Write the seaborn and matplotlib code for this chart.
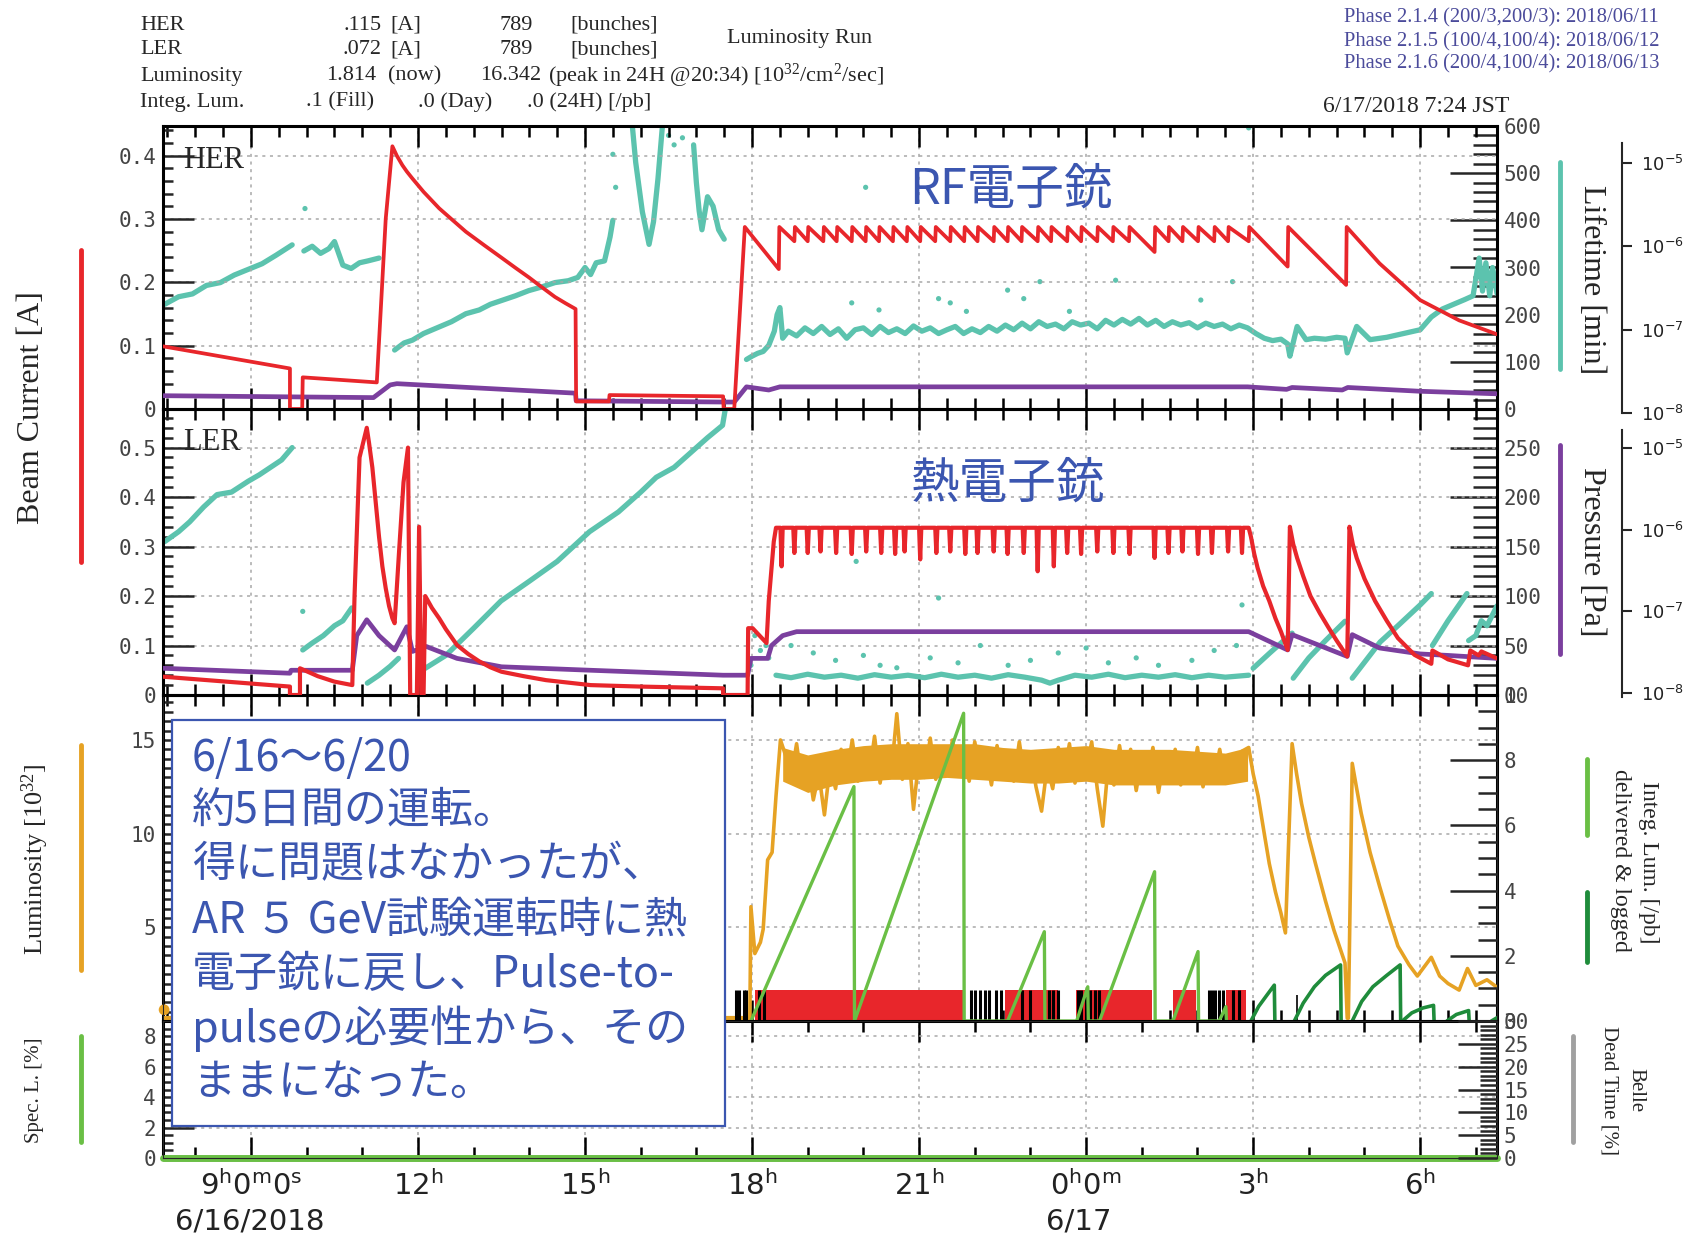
import numpy as np
import pandas as pd
import matplotlib
matplotlib.use('Agg')
import matplotlib.pyplot as plt
import seaborn as sns
from matplotlib.ticker import FixedLocator, MultipleLocator, NullLocator
from matplotlib.patches import Rectangle
from matplotlib.lines import Line2D

sns.set_style('white')
plt.rcParams['font.family'] = ['DejaVu Sans']
plt.rcParams['mathtext.default'] = 'regular'

# ------------------------------------------------------------------ data
T0, T1 = 7.42, 31.38                      # 6/16 7:25 .. 6/17 7:23 (hours)
xt_major = [9, 12, 15, 18, 21, 24, 27, 30]
xt_labels = [r'$\mathregular{9^h0^m0^s}$', r'$\mathregular{12^h}$', r'$\mathregular{15^h}$',
             r'$\mathregular{18^h}$', r'$\mathregular{21^h}$', r'$\mathregular{0^h0^m}$',
             r'$\mathregular{3^h}$', r'$\mathregular{6^h}$']

# HER beam current [A]
her_cur_t = [7.42, 9.70, 9.70, 9.92, 9.93, 10.60, 11.26, 11.42, 11.54, 11.62, 11.72, 11.80,
             11.90, 12.10, 12.38, 12.60, 12.86, 13.20, 13.50, 13.75, 13.99, 14.20, 14.46, 14.65,
             14.83, 14.84, 15.43, 15.44, 17.48, 17.49, 17.68, 17.87]
her_cur_v = [0.099, 0.064, 0.0, 0.0, 0.050, 0.046, 0.042, 0.30, 0.415, 0.400, 0.385, 0.375,
             0.364, 0.343, 0.317, 0.300, 0.280, 0.258, 0.239, 0.223, 0.208, 0.194, 0.177, 0.167,
             0.158, 0.012, 0.012, 0.022, 0.020, 0.0, 0.0, 0.2875]
her_inj_t = [18.48, 18.76, 19.00, 19.28, 19.52, 19.79, 20.04, 20.28, 20.53, 20.78, 21.02, 21.29,
             21.56, 21.81, 22.05, 22.34, 22.59, 22.84, 23.13, 23.37, 23.66, 23.91, 24.20, 24.48,
             24.77, 25.23, 25.48, 25.73, 26.01, 26.30, 26.55, 26.92, 27.62, 28.67]
her_inj_before = [0.221, 0.265, 0.265, 0.265, 0.265, 0.265, 0.265, 0.265, 0.265, 0.265, 0.265, 0.265,
                  0.265, 0.265, 0.265, 0.265, 0.265, 0.265, 0.265, 0.265, 0.265, 0.265, 0.265, 0.265,
                  0.265, 0.248, 0.265, 0.265, 0.265, 0.265, 0.265, 0.265, 0.225, 0.196]
her_inj_after = [0.2875] * 34
her_tail_t = [29.27, 30.00, 30.70, 31.38]
her_tail_v = [0.230, 0.172, 0.140, 0.118]

# HER pressure trace (plotted on current scale)
her_p_t = [7.42, 11.20, 11.50, 11.62, 14.83, 14.84, 17.48, 17.68, 17.90, 18.30, 18.50, 26.90,
           27.60, 27.70, 28.60, 28.70, 30.00, 31.38]
her_p_v = [0.021, 0.018, 0.038, 0.040, 0.025, 0.013, 0.011, 0.011, 0.035, 0.030, 0.035, 0.035,
           0.031, 0.034, 0.030, 0.034, 0.028, 0.024]

# HER lifetime [min]
her_life_t = [
    [7.45, 7.70, 7.95, 8.20, 8.45, 8.70, 8.95, 9.20, 9.45, 9.74],
    [9.95, 10.10, 10.25, 10.40, 10.50, 10.65, 10.80, 10.95, 11.10, 11.30],
    [11.58, 11.75, 11.90, 12.10, 12.38, 12.60, 12.86, 13.10, 13.30, 13.50, 13.75, 13.99, 14.20,
     14.46, 14.70, 14.87, 15.00, 15.10, 15.20, 15.35, 15.45, 15.50],
    [15.85, 15.91, 16.03, 16.15, 16.23, 16.31, 16.39],
    [16.95, 17.00, 17.05, 17.10, 17.20, 17.30, 17.40, 17.50],
    [17.9, 18.0, 18.1, 18.2, 18.3, 18.4, 18.45, 18.5, 18.55, 18.65,
     18.8, 18.95, 19.1, 19.25, 19.4, 19.55, 19.7, 19.85, 20.0, 20.15,
     20.3, 20.45, 20.6, 20.75, 20.9, 21.05, 21.2, 21.35, 21.5, 21.65,
     21.8, 21.95, 22.1, 22.25, 22.4, 22.55, 22.7, 22.85, 23.0, 23.15,
     23.3, 23.45, 23.6, 23.75, 23.9, 24.05, 24.2, 24.35, 24.5, 24.65,
     24.8, 24.95, 25.1, 25.25, 25.4, 25.55, 25.7, 25.85, 26.0, 26.15,
     26.3, 26.45, 26.6, 26.75, 26.9, 27.05, 27.2, 27.35, 27.5, 27.62,
     27.66, 27.79, 27.95, 28.1, 28.3, 28.5, 28.65, 28.69, 28.86, 29.1,
     29.4, 29.7, 30.0, 30.2, 30.4, 30.6, 30.8, 30.95, 31.06, 31.12,
     31.18, 31.25, 31.3, 31.38]]
her_life_v = [
    [222, 238, 244, 262, 268, 284, 296, 308, 326, 348],
    [335, 345, 330, 340, 355, 305, 298, 310, 314, 320],
    [125, 140, 146, 160, 174, 185, 202, 210, 222, 230, 240, 251, 258, 268, 272, 279, 300, 285,
     310, 314, 365, 400],
    [600, 523, 418, 349, 397, 488, 600],
    [560, 480, 420, 380, 450, 430, 380, 360],
    [105, 112, 118, 122, 135, 165, 200, 215, 150, 165,
     155, 172, 160, 175, 158, 170, 150, 168, 172, 158,
     175, 162, 170, 160, 176, 165, 172, 160, 168, 175,
     160, 170, 162, 175, 165, 178, 168, 182, 170, 185,
     175, 180, 170, 185, 178, 182, 170, 188, 178, 190,
     180, 192, 178, 188, 175, 185, 178, 183, 172, 182,
     175, 180, 170, 178, 172, 160, 150, 145, 148, 138,
     112, 175, 147, 150, 148, 152, 150, 119, 175, 147,
     152, 160, 168, 195, 212, 222, 232, 240, 320, 250,
     310, 240, 300, 245]]
her_dot_t = [9.97, 15.50, 15.55, 16.50, 16.60, 16.75, 19.79, 20.04, 20.28, 21.35, 21.56, 21.85,
             22.59, 22.88, 23.17, 23.70, 24.53, 26.06, 26.63, 26.92]
her_dot_v = [425, 540, 470, 580, 560, 575, 225, 470, 210, 234, 225, 207,
             252, 234, 270, 207, 273, 231, 270, 596]

# LER beam current [A]
ler_cur_t = [7.42, 9.70, 9.70, 9.88, 9.88, 10.20, 10.50, 10.82, 10.86, 10.95, 11.08, 11.12,
             11.18, 11.24, 11.30, 11.36, 11.42, 11.48, 11.54, 11.58, 11.66, 11.74, 11.82, 11.86,
             11.98, 12.02, 12.06, 12.10, 12.13, 12.18, 12.25, 12.38, 12.50, 12.70, 12.90, 13.10,
             13.30, 13.50, 13.90, 14.30, 14.70, 15.10, 16.00, 17.48, 17.48, 17.92, 17.93, 18.01,
             18.26, 18.30, 18.39, 18.43]
ler_cur_v = [0.037, 0.017, 0.0, 0.0, 0.054, 0.038, 0.027, 0.020, 0.20, 0.48, 0.54, 0.51,
             0.46, 0.39, 0.32, 0.26, 0.216, 0.18, 0.155, 0.145, 0.29, 0.43, 0.50, 0.0,
             0.0, 0.34, 0.0, 0.0, 0.20, 0.19, 0.176, 0.155, 0.133, 0.101, 0.083, 0.068,
             0.056, 0.047, 0.038, 0.030, 0.025, 0.020, 0.017, 0.0135, 0.0, 0.0, 0.135, 0.135,
             0.105, 0.19, 0.31, 0.338]
ler_plateau = 0.338
ler_dip_t = [18.53, 18.76, 19.00, 19.23, 19.51, 19.79, 20.05, 20.32, 20.57, 20.74, 21.02, 21.31,
             21.56, 21.83, 22.05, 22.34, 22.59, 22.88, 23.13, 23.42, 23.66, 23.91, 24.20, 24.49,
             24.78, 25.23, 25.48, 25.73, 26.01, 26.26, 26.55, 26.80]
ler_dip_v = [0.26, 0.287, 0.287, 0.29, 0.287, 0.285, 0.29, 0.287, 0.285, 0.29, 0.274, 0.287,
             0.29, 0.285, 0.287, 0.29, 0.285, 0.287, 0.25, 0.26, 0.287, 0.285, 0.29, 0.287,
             0.285, 0.277, 0.287, 0.29, 0.285, 0.287, 0.29, 0.287]
ler_tail_t = [26.92, 26.96, 27.02, 27.08, 27.18, 27.29, 27.40, 27.50, 27.62, 27.66, 27.72, 27.79,
              27.90, 28.03, 28.20, 28.36, 28.50, 28.69, 28.73, 28.79, 28.86, 29.00, 29.19, 29.40,
              29.60, 29.90, 30.20, 30.22, 30.50, 30.86, 30.90, 31.05, 31.10, 31.38]
ler_tail_v = [0.338, 0.32, 0.285, 0.257, 0.22, 0.19, 0.155, 0.128, 0.091, 0.34, 0.305, 0.277,
              0.24, 0.20, 0.165, 0.135, 0.11, 0.078, 0.34, 0.305, 0.277, 0.235, 0.19, 0.15,
              0.115, 0.081, 0.063, 0.09, 0.072, 0.06, 0.09, 0.08, 0.088, 0.074]

ler_p_t = [7.42, 9.70, 9.72, 10.82, 10.90, 11.08, 11.30, 11.58, 11.80, 11.90, 12.15, 12.70,
           13.50, 15.10, 17.48, 17.92, 17.98, 18.28, 18.35, 18.55, 18.80, 26.92, 27.62, 27.70,
           28.69, 28.78, 29.27, 30.00, 30.50, 31.38]
ler_p_v = [0.054, 0.044, 0.050, 0.050, 0.12, 0.152, 0.12, 0.091, 0.138, 0.088, 0.098, 0.074,
           0.057, 0.050, 0.040, 0.040, 0.074, 0.074, 0.10, 0.12, 0.128, 0.128, 0.091, 0.122,
           0.078, 0.122, 0.095, 0.083, 0.080, 0.074]

ler_life_t = [
    [7.45, 7.70, 7.90, 8.15, 8.39, 8.65, 8.95, 9.15, 9.35, 9.55, 9.74],
    [9.93, 10.10, 10.30, 10.50, 10.65, 10.81],
    [11.09, 11.30, 11.50, 11.65],
    [12.13, 12.50, 13.00, 13.49, 14.00, 14.50, 15.08, 15.60, 16.00, 16.28, 16.60, 16.90, 17.20,
     17.47, 17.52],
    [18.43, 18.70, 19.00, 19.30, 19.60, 19.90, 20.20, 20.50, 20.80, 21.10,
     21.40, 21.70, 22.00, 22.30, 22.60, 22.90, 23.20, 23.35, 23.50, 23.80,
     24.10, 24.40, 24.70, 25.00, 25.30, 25.60, 25.90, 26.20, 26.50, 26.92],
    [27.00, 27.30, 27.70],
    [27.72, 28.00, 28.30, 28.65],
    [28.78, 29.28, 29.60, 30.00, 30.20],
    [30.22, 30.50, 30.84],
    [30.87, 31.00, 31.10, 31.20, 31.38]]
ler_life_v = [
    [0.31, 0.33, 0.35, 0.38, 0.405, 0.41, 0.432, 0.445, 0.46, 0.475, 0.50],
    [0.091, 0.105, 0.12, 0.14, 0.15, 0.176],
    [0.024, 0.04, 0.058, 0.074],
    [0.054, 0.08, 0.135, 0.19, 0.23, 0.27, 0.33, 0.37, 0.41, 0.44, 0.46, 0.49, 0.52, 0.545, 0.578],
    [0.04, 0.035, 0.042, 0.036, 0.04, 0.034, 0.041, 0.036, 0.04, 0.035,
     0.042, 0.036, 0.04, 0.034, 0.041, 0.036, 0.03, 0.024, 0.03, 0.04,
     0.036, 0.042, 0.035, 0.04, 0.036, 0.041, 0.035, 0.04, 0.036, 0.04],
    [0.054, 0.085, 0.125],
    [0.034, 0.075, 0.11, 0.149],
    [0.034, 0.107, 0.14, 0.182, 0.205],
    [0.10, 0.15, 0.205],
    [0.11, 0.12, 0.15, 0.14, 0.18]]
ler_dot_t = [9.93, 17.98, 18.05, 18.15, 18.25, 18.30, 18.7, 19.1, 19.5, 19.87, 20.0, 20.3, 20.6,
             21.2, 21.35, 21.7, 22.1, 22.6, 23.0, 23.5, 24.0, 24.4, 24.9, 25.3, 25.9, 26.3, 26.7,
             26.8]
ler_dot_v = [0.169, 0.06, 0.12, 0.09, 0.10, 0.075, 0.10, 0.085, 0.07, 0.27, 0.08, 0.06, 0.055,
             0.075, 0.196, 0.065, 0.10, 0.06, 0.07, 0.085, 0.095, 0.065, 0.075, 0.06, 0.07, 0.09,
             0.10, 0.182]

# Luminosity [1e32]
lum_pre_t = [7.42, 17.96]
lum_pre_v = [0.15, 0.15]
lum_t = [17.96, 17.98, 18.05, 18.15, 18.20, 18.28, 18.36, 18.43, 18.51,
         18.6, 18.7, 18.8, 18.9, 19.0, 19.1, 19.2, 19.3, 19.4, 19.5,
         19.6, 19.7, 19.8, 19.9, 20.0, 20.1, 20.2, 20.3, 20.4, 20.5,
         20.6, 20.7, 20.8, 20.9, 21.0, 21.1, 21.2, 21.3, 21.4, 21.5,
         21.6, 21.7, 21.8, 21.9, 22.0, 22.1, 22.2, 22.3, 22.4, 22.5,
         22.6, 22.7, 22.8, 22.9, 23.0, 23.1, 23.2, 23.3, 23.4, 23.5,
         23.6, 23.7, 23.8, 23.9, 24.0, 24.1, 24.2, 24.3, 24.4, 24.5,
         24.6, 24.7, 24.8, 24.9, 25.0, 25.1, 25.2, 25.3, 25.4, 25.5,
         25.6, 25.7, 25.8, 25.9, 26.0, 26.1, 26.2, 26.3, 26.4, 26.5,
         26.6, 26.7, 26.8, 26.92,
         27.00, 27.09, 27.20, 27.29, 27.40, 27.50, 27.58, 27.70, 27.78, 27.87, 28.00, 28.12,
         28.30, 28.45, 28.65, 28.69, 28.71, 28.78, 28.86, 28.94, 29.10, 29.27, 29.45, 29.60,
         29.80, 29.95, 30.20, 30.35, 30.50, 30.70, 30.85, 31.00, 31.20, 31.38]
lum_v = [0.15, 6.1, 3.6, 4.2, 4.9, 8.6, 9.0, 12.0, 15.0,
         14.2, 13.0, 14.8, 12.6, 13.9, 11.8, 13.2, 11.0, 13.6, 12.4,
         14.5, 13.1, 15.0, 12.8, 14.3, 13.0, 15.2, 12.7, 14.6, 13.2,
         16.4, 12.9, 14.8, 11.3, 14.1, 13.0, 15.1, 12.9, 14.4, 13.3,
         15.0, 13.1, 14.6, 12.8, 14.9, 13.2, 14.2, 12.6, 14.7, 13.0,
         14.4, 12.8, 14.9, 12.9, 14.3, 12.5, 11.2, 13.6, 12.4, 14.6,
         13.0, 14.8, 12.7, 14.2, 13.3, 14.9, 12.4, 10.4, 13.8, 12.6,
         14.7, 12.9, 14.5, 12.3, 14.1, 13.0, 14.6, 12.2, 14.0, 13.1,
         14.5, 12.6, 14.3, 12.9, 14.6, 12.5, 14.2, 13.0, 14.5, 12.7,
         14.0, 12.9, 14.4, 14.6,
         13.2, 12.0, 10.0, 8.4, 6.9, 5.75, 4.7, 14.8, 13.2, 11.6, 9.8, 8.4,
         6.4, 4.86, 3.1, 0.15, 0.15, 13.75, 12.4, 11.1, 9.0, 7.2, 5.4, 4.0,
         3.0, 2.4, 3.4, 2.4, 2.0, 1.65, 2.8, 1.9, 2.2, 1.8]
lum_env_t = [18.55, 19.0, 19.5, 20.0, 20.5, 21.0, 21.5, 22.0, 22.5, 23.0, 23.5, 24.0, 24.5,
             25.0, 25.5, 26.0, 26.5, 26.9]
lum_env_lo = [12.8, 12.2, 12.6, 12.8, 12.9, 12.9, 13.0, 12.9, 12.8, 12.7, 12.7, 12.8, 12.6,
              12.6, 12.6, 12.6, 12.6, 12.8]
lum_env_hi = [14.6, 14.2, 14.5, 14.7, 14.8, 14.8, 14.8, 14.8, 14.6, 14.5, 14.6, 14.7, 14.5,
              14.5, 14.5, 14.4, 14.3, 14.6]

# Integrated luminosity [/pb]
ilum_t = [17.98, 19.83, 19.84, 21.80, 21.81, 22.59, 23.25, 23.26, 23.83, 24.03, 24.04, 24.24,
          25.23, 25.24, 25.56, 26.01, 26.02, 26.39, 26.51, 26.52]
ilum_v = [0, 7.19, 0, 9.44, 0, 0, 2.74, 0, 0, 1.05, 0, 0, 4.58, 0, 0, 2.13, 0, 0, 0.44, 0]
logged_t = [[26.96, 27.10, 27.25, 27.38, 27.39], [27.74, 27.90, 28.10, 28.30, 28.57, 28.58],
            [28.78, 28.95, 29.15, 29.40, 29.64, 29.65], [29.68, 29.85, 30.05, 30.24, 30.25],
            [30.48, 30.65, 30.87, 30.88], [31.28, 31.38]]
logged_v = [[0, 0.45, 0.8, 1.1, 0], [0, 0.55, 1.05, 1.4, 1.72, 0],
            [0, 0.6, 1.05, 1.4, 1.72, 0], [0, 0.25, 0.4, 0.48, 0],
            [0, 0.2, 0.32, 0], [0, 0.1]]
red_start = [18.06, 22.55, 23.81, 25.56, 26.51]
red_end = [21.81, 23.50, 25.19, 25.97, 26.88]
black_t = [17.71, 17.77, 17.85, 17.89, 18.12, 18.22, 21.93, 22.01, 22.10, 22.18, 22.26, 22.38,
           22.47, 22.84, 23.00, 23.33, 23.41, 23.50, 23.86, 23.91, 23.99, 24.07, 24.16, 24.24,
           26.20, 26.26, 26.32, 26.38, 26.45, 26.63, 26.75]
status_h = 0.95

spec_t = [T0, T1]
spec_v = [0.0, 0.0]

header_rows = [
    ['HER', '.115', '[A]', '789', '[bunches]'],
    ['LER', '.072', '[A]', '789', '[bunches]'],
]
phase_lines = ['Phase 2.1.4 (200/3,200/3): 2018/06/11',
               'Phase 2.1.5 (100/4,100/4): 2018/06/12',
               'Phase 2.1.6 (200/4,100/4): 2018/06/13']
box_lines = ['6/16〜6/20', '約5日間の運転。', '得に問題はなかったが、', 'AR ５ GeV試験運転時に熱',
             '電子銃に戻し、Pulse-to-', 'pulseの必要性から、その', 'ままになった。']

# ------------------------------------------------------------------ style
RED = '#e8262b'
TEAL = '#5cc3ae'
PURPLE = '#7b3f9e'
ORANGE = '#e6a224'
LGREEN = '#6abf45'
DGREEN = '#1f8c3b'
BLUE = '#3b56b0'
GRAY = '#a0a0a0'
SERIF = 'Liberation Serif'
MONO = 'DejaVu Sans Mono'
CJK = ['Noto Sans CJK JP', 'DejaVu Sans']

W, H = 1689, 1236
fig = plt.figure(figsize=(W / 100, H / 100), dpi=100)
fig.patch.set_facecolor('white')
L, R = 163, 1497


def add_ax(top, bot):
    return fig.add_axes([L / W, 1 - bot / H, (R - L) / W, (bot - top) / H])


def T(x, y, s, **kw):
    return fig.text(x / W, 1 - y / H, s, **kw)


def vline_fig(x, y0, y1, color, lw=3.5):
    fig.add_artist(Line2D([x / W, x / W], [1 - y0 / H, 1 - y1 / H], color=color, lw=lw,
                          transform=fig.transFigure))


def draw(ax, t, v, color, lw, z=3):
    df = pd.DataFrame({'t': t, 'v': v})
    sns.lineplot(data=df, x='t', y='v', ax=ax, color=color, lw=lw, sort=False,
                 estimator=None, zorder=z, legend=False)


def draw_segments(ax, ts, vs, color, lw, z=3):
    rows = []
    for k, (tt, vv) in enumerate(zip(ts, vs)):
        for a, b in zip(tt, vv):
            rows.append((k, a, b))
    df = pd.DataFrame(rows, columns=['seg', 't', 'v'])
    sns.lineplot(data=df, x='t', y='v', units='seg', ax=ax, color=color, lw=lw, sort=False,
                 estimator=None, zorder=z, legend=False)


def style_main(ax, ylim, ticks, labels, yminor, xminor=0.5):
    ax.set_xlim(T0, T1)
    ax.set_ylim(*ylim)
    ax.xaxis.set_major_locator(FixedLocator(xt_major))
    ax.xaxis.set_minor_locator(MultipleLocator(xminor))
    ax.set_yticks(ticks, labels=labels, fontfamily=MONO, fontsize=15, color='#444444')
    ax.yaxis.set_minor_locator(MultipleLocator(yminor))
    ax.tick_params(axis='x', which='both', direction='in', top=True, bottom=True,
                   labelbottom=False, width=1.8, color='black')
    ax.tick_params(axis='x', which='major', length=15)
    ax.tick_params(axis='x', which='minor', length=8)
    ax.tick_params(axis='y', which='both', direction='in', left=True, right=False, width=1.8)
    ax.tick_params(axis='y', which='major', length=22, pad=5)
    ax.tick_params(axis='y', which='minor', length=7)
    for s in ax.spines.values():
        s.set_linewidth(2.2)
        s.set_color('black')
    ax.grid(True, which='major', color='#a8a8a8', ls=(0, (2, 3)), lw=1.1)
    ax.set_xlabel('')
    ax.set_ylabel('')


def style_twin(tw, ylim, ticks, labels, yminor, majlen=24, minlen=12):
    tw.set_ylim(*ylim)
    tw.set_yticks(ticks, labels=labels, fontfamily=MONO, fontsize=15, color='#444444')
    tw.yaxis.set_minor_locator(MultipleLocator(yminor))
    tw.tick_params(axis='y', which='both', direction='in', right=True, left=False, width=1.8)
    tw.tick_params(axis='y', which='major', length=majlen, pad=5)
    tw.tick_params(axis='y', which='minor', length=minlen)
    tw.set_xlabel('')
    tw.set_ylabel('')


# ------------------------------------------------------------------ HER panel
ax_her = add_ax(126, 409)
tw_her = ax_her.twinx()
ax_her.set_zorder(tw_her.get_zorder() + 1)
ax_her.patch.set_visible(False)

draw_segments(tw_her, her_life_t, her_life_v, TEAL, 3.8, z=2)
sns.scatterplot(x=her_dot_t, y=her_dot_v, ax=tw_her, color=TEAL, s=14, edgecolor='none', zorder=2)

her_t_all = list(her_cur_t)
her_v_all = list(her_cur_v)
for t_i, b_i, a_i in zip(her_inj_t, her_inj_before, her_inj_after):
    her_t_all += [t_i, t_i + 0.01]
    her_v_all += [b_i, a_i]
her_t_all += her_tail_t
her_v_all += her_tail_v
draw(ax_her, her_p_t, her_p_v, PURPLE, 3.4, z=3)
draw(ax_her, her_t_all, her_v_all, RED, 2.7, z=4)

style_main(ax_her, (0, 0.447), [0, 0.1, 0.2, 0.3, 0.4], ['0', '0.1', '0.2', '0.3', '0.4'], 0.02)
style_twin(tw_her, (0, 600), [0, 100, 200, 300, 400, 500, 600],
           ['0', '100', '200', '300', '400', '500', '600'], 20, majlen=34, minlen=17)

# ------------------------------------------------------------------ LER panel
ax_ler = add_ax(409, 695)
tw_ler = ax_ler.twinx()
ax_ler.set_zorder(tw_ler.get_zorder() + 1)
ax_ler.patch.set_visible(False)

draw_segments(ax_ler, ler_life_t, ler_life_v, TEAL, 3.8, z=2)
sns.scatterplot(x=ler_dot_t, y=ler_dot_v, ax=ax_ler, color=TEAL, s=14, edgecolor='none', zorder=2)

ler_t_all = list(ler_cur_t)
ler_v_all = list(ler_cur_v)
for t_i, d_i in zip(ler_dip_t, ler_dip_v):
    ler_t_all += [t_i - 0.02, t_i, t_i + 0.02]
    ler_v_all += [ler_plateau, d_i, ler_plateau]
ler_t_all += ler_tail_t
ler_v_all += ler_tail_v
draw(ax_ler, ler_p_t, ler_p_v, PURPLE, 3.4, z=3)
draw(ax_ler, ler_t_all, ler_v_all, RED, 3.0, z=4)

style_main(ax_ler, (0, 0.578), [0, 0.1, 0.2, 0.3, 0.4, 0.5],
           ['0', '0.1', '0.2', '0.3', '0.4', '0.5'], 0.02)
style_twin(tw_ler, (0, 289), [0, 50, 100, 150, 200, 250],
           ['0', '50', '100', '150', '200', '250'], 10, majlen=34, minlen=17)

# ------------------------------------------------------------------ Luminosity panel
ax_lum = add_ax(695, 1021)
tw_lum = ax_lum.twinx()

ax_lum.fill_between(lum_env_t, lum_env_lo, lum_env_hi, color=ORANGE, lw=0, zorder=2)
draw(ax_lum, lum_pre_t, lum_pre_v, ORANGE, 3.0, z=3)
draw(ax_lum, lum_t, lum_v, ORANGE, 2.6, z=3)
sns.scatterplot(x=[T0 + 0.02], y=[0.6], ax=ax_lum, color=ORANGE, s=60, edgecolor='none',
                zorder=3, clip_on=False)

for s0, s1 in zip(red_start, red_end):
    tw_lum.fill_between([s0, s1], [0, 0], [status_h, status_h], color=RED, lw=0, zorder=1)
tw_lum.vlines(black_t, 0, status_h, color='black', lw=2.2, zorder=2)
tw_lum.vlines([27.79], 0, 0.8, color='black', lw=1.2, zorder=2)
draw(tw_lum, ilum_t, ilum_v, LGREEN, 2.4, z=3)
draw_segments(tw_lum, logged_t, logged_v, DGREEN, 2.6, z=3)

style_main(ax_lum, (0, 17.4), [5, 10, 15], ['5', '10', '15'], 0.5)
style_twin(tw_lum, (0, 10), [0, 2, 4, 6, 8, 10], ['0', '2', '4', '6', '8', '10'], 0.5,
           majlen=34, minlen=14)

# ------------------------------------------------------------------ Spec panel
ax_sp = add_ax(1021, 1158)
tw_sp = ax_sp.twinx()
draw(ax_sp, spec_t, spec_v, LGREEN, 5, z=3)
for ln in ax_sp.get_lines():
    ln.set_clip_on(False)
style_main(ax_sp, (0, 9), [0, 2, 4, 6, 8], ['0', '2', '4', '6', '8'], 0.5, xminor=1.0)
ax_sp.set_xticks(xt_major, labels=xt_labels, fontsize=21, color='#222222')
ax_sp.tick_params(axis='x', which='major', labelbottom=True, pad=9)
style_twin(tw_sp, (0, 30), [0, 5, 10, 15, 20, 25, 30], ['0', '5', '10', '15', '20', '25', '30'],
           1, majlen=28, minlen=12)

T(250, 1222, '6/16/2018', ha='center', va='center', fontsize=21, color='#222222')
T(1079, 1222, '6/17', ha='center', va='center', fontsize=21, color='#222222')


# ------------------------------------------------------------------ log pressure axes
def log_axis(top_px, bot_px, y5_px, y8_px):
    per_dec = (y8_px - y5_px) / 3.0
    lo = -8 - (bot_px - y8_px) / per_dec
    hi = -5 + (y5_px - top_px) / per_dec
    axl = fig.add_axes([1620 / W, 1 - bot_px / H, 2 / W, (bot_px - top_px) / H])
    axl.set_yscale('log')
    axl.set_ylim(10 ** lo, 10 ** hi)
    for k in ['left', 'top', 'bottom']:
        axl.spines[k].set_visible(False)
    axl.spines['right'].set_linewidth(1.5)
    axl.set_xticks([])
    axl.yaxis.tick_right()
    axl.set_yticks([1e-8, 1e-7, 1e-6, 1e-5],
                   labels=[r'$\mathregular{10^{-8}}$', r'$\mathregular{10^{-7}}$',
                           r'$\mathregular{10^{-6}}$', r'$\mathregular{10^{-5}}$'],
                   fontsize=13, color='#222222')
    axl.yaxis.set_minor_locator(NullLocator())
    axl.tick_params(axis='y', direction='out', length=7, width=1.5, pad=7)
    axl.patch.set_visible(False)


log_axis(143, 413, 163, 413)
log_axis(430, 697, 448, 693)

# ------------------------------------------------------------------ side labels
vline_fig(81, 250, 562, RED)
vline_fig(81, 745, 970, ORANGE)
vline_fig(81, 1036, 1142, LGREEN)
vline_fig(1560, 162, 369, TEAL)
vline_fig(1560, 445, 654, PURPLE)
vline_fig(1587, 759, 835, LGREEN)
vline_fig(1587, 892, 962, DGREEN)
vline_fig(1573, 1036, 1142, GRAY)

T(32, 408, 'Beam Current [A]', rotation=90, ha='center', va='center', fontsize=23, family=SERIF)
T(35, 859, r'Luminosity [10$^{32}$]', rotation=90, ha='center', va='center', fontsize=19,
  family=SERIF)
T(35, 1090, 'Spec. L. [%]', rotation=90, ha='center', va='center', fontsize=15, family=SERIF)
T(1592, 280, 'Lifetime [min]', rotation=-90, ha='center', va='center', fontsize=23, family=SERIF)
T(1592, 552, 'Pressure [Pa]', rotation=-90, ha='center', va='center', fontsize=23, family=SERIF)
T(1648, 862, 'Integ. Lum. [/pb]', rotation=-90, ha='center', va='center', fontsize=17,
  family=SERIF)
T(1620, 860, 'delivered & logged', rotation=-90, ha='center', va='center', fontsize=17,
  family=SERIF)
T(1636, 1090, 'Belle', rotation=-90, ha='center', va='center', fontsize=15, family=SERIF)
T(1609, 1090, 'Dead Time [%]', rotation=-90, ha='center', va='center', fontsize=15, family=SERIF)

# ------------------------------------------------------------------ header
hs = 16
row_y = [25, 50, 76, 102]
for y, row in zip(row_y[:2], header_rows):
    T(140, y, row[0], ha='left', va='center', fontsize=hs, family=SERIF)
    T(382, y, row[1], ha='right', va='center', fontsize=hs, family=SERIF)
    T(390, y, row[2], ha='left', va='center', fontsize=hs, family=SERIF)
    T(533, y, row[3], ha='right', va='center', fontsize=hs, family=SERIF)
    T(570, y, row[4], ha='left', va='center', fontsize=hs, family=SERIF)
T(140, row_y[2], 'Luminosity', ha='left', va='center', fontsize=hs, family=SERIF)
T(376, row_y[2], '1.814', ha='right', va='center', fontsize=hs, family=SERIF)
T(388, row_y[2], '(now)', ha='left', va='center', fontsize=hs, family=SERIF)
T(541, row_y[2], '16.342', ha='right', va='center', fontsize=hs, family=SERIF)
T(548, row_y[2], r'(peak in 24H @20:34) [10$^{32}$/cm$^{2}$/sec]', ha='left', va='center',
  fontsize=hs, family=SERIF)
T(140, row_y[3], 'Integ. Lum.', ha='left', va='center', fontsize=hs, family=SERIF)
T(306, row_y[3], '.1 (Fill)', ha='left', va='center', fontsize=hs, family=SERIF)
T(418, row_y[3], '.0 (Day)', ha='left', va='center', fontsize=hs, family=SERIF)
T(527, row_y[3], '.0 (24H) [/pb]', ha='left', va='center', fontsize=hs, family=SERIF)
T(727, 38, 'Luminosity Run', ha='left', va='center', fontsize=hs, family=SERIF)
for y, s in zip([18, 42, 64], phase_lines):
    T(1659, y, s, ha='right', va='center', fontsize=14.8, family=SERIF, color='#4b4b9b')
T(1323, 107, '6/17/2018 7:24 JST', ha='left', va='center', fontsize=17, family=SERIF)

# ------------------------------------------------------------------ annotations
T(183, 160, 'HER', ha='left', va='center', fontsize=22, family=SERIF, zorder=10)
T(183, 443, 'LER', ha='left', va='center', fontsize=22, family=SERIF, zorder=10)
T(909, 190, 'RF電子銃', ha='left', va='center', fontsize=35, family=CJK, color=BLUE, zorder=10)
T(911, 484, '熱電子銃', ha='left', va='center', fontsize=35, family=CJK, color=BLUE, zorder=10)

box = Rectangle((172 / W, 1 - 1126 / H), (725 - 172) / W, (1126 - 720) / H,
                transform=fig.transFigure, facecolor='white', edgecolor=BLUE, lw=1.6, zorder=20)
fig.add_artist(box)
for y, s in zip([759, 811, 865, 921, 975, 1029, 1083], box_lines):
    T(192, y, s, ha='left', va='center', fontsize=31, family=CJK, color=BLUE, zorder=21)

fig.savefig('out.png', dpi=100, facecolor='white')
